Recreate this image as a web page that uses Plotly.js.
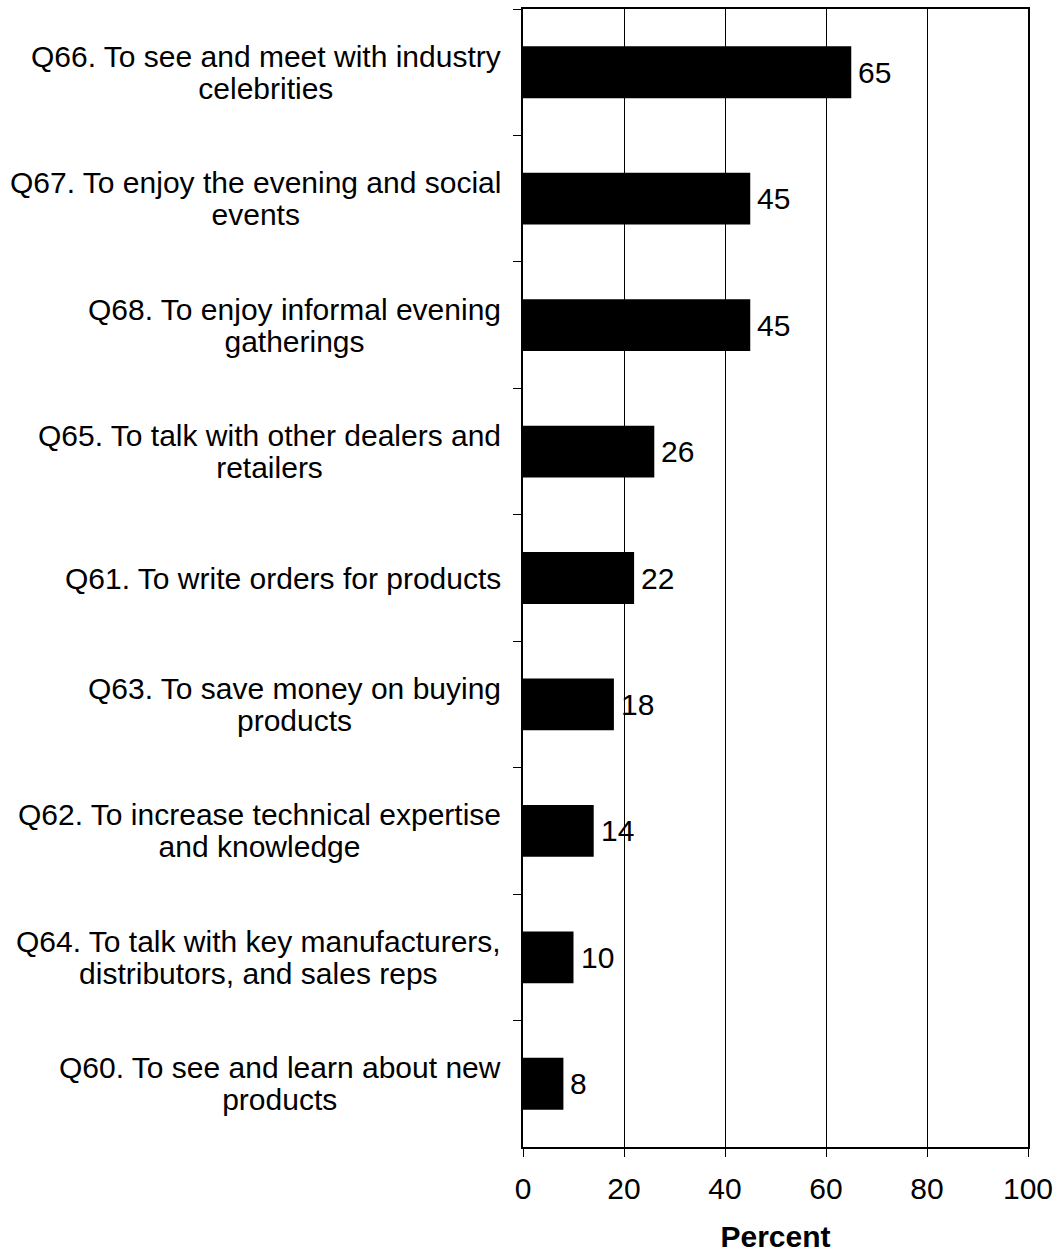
<!DOCTYPE html>
<html>
<head>
<meta charset="utf-8">
<script src="https://cdn.plot.ly/plotly-3.0.1.min.js"></script>
<style>
  html, body { margin: 0; padding: 0; background: #fff; }
  #chart { width: 1057px; height: 1253px; }
</style>
</head>
<body>
<div id="chart"></div>
<script>
// Survey items, listed from top to bottom
const categories = ["Q66", "Q67", "Q68", "Q65", "Q61", "Q63", "Q62", "Q64", "Q60"];
const itemLines = [
  ["Q66. To see and meet with industry", "celebrities"],
  ["Q67. To enjoy the evening and social", "events"],
  ["Q68. To enjoy informal evening", "gatherings"],
  ["Q65. To talk with other dealers and", "retailers"],
  ["Q61. To write orders for products"],
  ["Q63. To save money on buying", "products"],
  ["Q62. To increase technical expertise", "and knowledge"],
  ["Q64. To talk with key manufacturers,", "distributors, and sales reps"],
  ["Q60. To see and learn about new", "products"]
];
const percents = [65, 45, 45, 26, 22, 18, 14, 10, 8];
const xTicks = [0, 20, 40, 60, 80, 100];

const FONT = "Arial, 'Liberation Sans', Helvetica, sans-serif";
const SIZE = 30;

const trace = {
  type: "bar",
  orientation: "h",
  y: categories,
  x: percents,
  width: 0.41,
  marker: { color: "#000000", line: { width: 0 } },
  hoverinfo: "skip"
};

// Category labels: centred multi-line blocks to the left of the axis
const labelNotes = categories.map((c, i) => ({
  xref: "paper", yref: "y",
  x: 0, y: c,
  xanchor: "right", yanchor: "middle",
  xshift: -20,
  align: "center",
  showarrow: false,
  font: { family: FONT, size: 24.6, color: "#000" },
  text: itemLines[i].map(s => '<span style="font-size:' + SIZE + 'px">' + s + '</span>').join("<br>")
}));

// Value labels just past the end of each bar
const valueNotes = categories.map((c, i) => ({
  xref: "x", yref: "y",
  x: percents[i], y: c,
  xanchor: "left", yanchor: "middle",
  xshift: 5,
  showarrow: false,
  font: { family: FONT, size: SIZE, color: "#000" },
  text: String(percents[i])
}));

const layout = {
  width: 1057,
  height: 1253,
  margin: { l: 523, r: 29, t: 9, b: 106, pad: 0 },
  paper_bgcolor: "#ffffff",
  plot_bgcolor: "#ffffff",
  showlegend: false,
  font: { family: FONT, size: SIZE, color: "#000" },
  xaxis: {
    range: [0, 100],
    tickvals: xTicks,
    ticktext: xTicks.map(String),
    ticks: "outside",
    ticklen: 8,
    tickwidth: 1,
    tickcolor: "#000",
    ticklabelstandoff: 6,
    showgrid: true,
    gridcolor: "#000",
    gridwidth: 1,
    zeroline: false,
    showline: true,
    linecolor: "#000",
    linewidth: 2,
    mirror: true,
    tickfont: { family: FONT, size: SIZE, color: "#000" },
    title: {
      text: "<b>Percent</b>",
      font: { family: FONT, size: SIZE, color: "#000" },
      standoff: 23
    }
  },
  yaxis: {
    type: "category",
    autorange: "reversed",
    tickson: "boundaries",
    ticks: "outside",
    ticklen: 8,
    tickwidth: 1,
    tickcolor: "#000",
    showticklabels: false,
    showgrid: false,
    zeroline: false,
    showline: true,
    linecolor: "#000",
    linewidth: 2,
    mirror: true
  },
  annotations: labelNotes.concat(valueNotes)
};

Plotly.newPlot("chart", [trace], layout, { staticPlot: true, displayModeBar: false });
</script>
</body>
</html>
